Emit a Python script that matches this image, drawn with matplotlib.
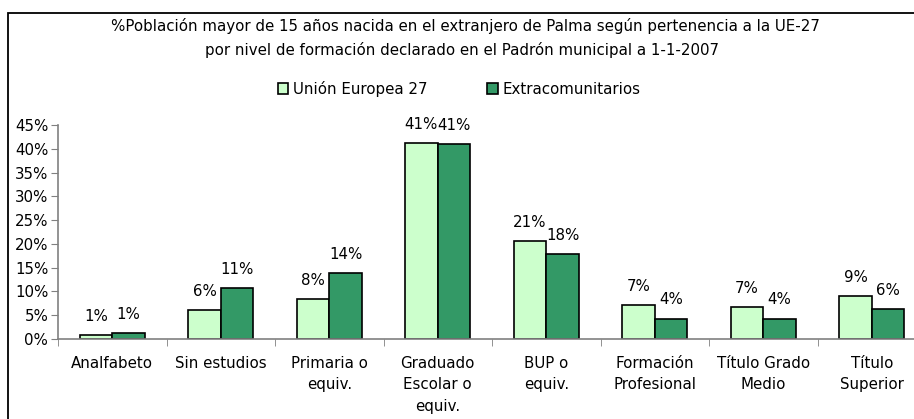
import numpy as np
import matplotlib
matplotlib.use("Agg")
import matplotlib.pyplot as plt
from matplotlib.patches import Rectangle
from matplotlib.ticker import FixedLocator, PercentFormatter

plt.rcParams['font.family'] = ['DejaVu Sans']

categories = ["Analfabeto", "Sin estudios", "Primaria o\nequiv.", "Graduado\nEscolar o\nequiv.",
              "BUP o\nequiv.", "Formación\nProfesional", "Título Grado\nMedio", "Título\nSuperior"]
ue27 = [0.8, 6.0, 8.4, 41.2, 20.6, 7.1, 6.7, 9.1]
extra = [1.2, 10.7, 13.9, 40.9, 17.8, 4.3, 4.3, 6.3]
series_names = ["Unión Europea 27", "Extracomunitarios"]

W, H = 914, 419
FS = 10.8
fig = plt.figure(figsize=(W / 100, H / 100), dpi=100)

# outer chart frame (cut off on the right and bottom like the original)
fig.patches.append(Rectangle((8 / W, -0.1), 1.2, (H - 13) / H + 0.1, transform=fig.transFigure,
                             fill=False, edgecolor='black', linewidth=1.3))

ax = fig.add_axes([58 / W, (H - 339) / H, 868 / W, 214 / H])
x = np.arange(len(categories))
bw = 0.3
b1 = ax.bar(x - bw / 2, ue27, bw, color='#CCFFCC', edgecolor='black', linewidth=1.2, label=series_names[0])
b2 = ax.bar(x + bw / 2, extra, bw, color='#339966', edgecolor='black', linewidth=1.2, label=series_names[1])

for bars, vals in ((b1, ue27), (b2, extra)):
    for r, v in zip(bars, vals):
        ax.annotate(f"{round(v):.0f}%", (r.get_x() + r.get_width() / 2, v), xytext=(0, 8),
                    textcoords='offset points', ha='center', va='bottom', fontsize=FS)

ax.set_xlim(-0.5, len(categories) - 0.5)
ax.set_ylim(0, 45)
ax.yaxis.set_major_locator(FixedLocator(np.arange(0, 46, 5)))
ax.yaxis.set_major_formatter(PercentFormatter(decimals=0))
ax.set_xticks(x)
ax.set_xticklabels(categories, fontsize=FS, linespacing=1.55)
ax.xaxis.set_minor_locator(FixedLocator(np.arange(-0.5, len(categories), 1)))
ax.tick_params(axis='x', which='major', length=0, pad=12)
ax.tick_params(axis='x', which='minor', length=5, direction='out', color='#808080')
ax.tick_params(axis='y', length=5, direction='out', color='#808080', labelsize=FS, pad=2)
for s in ('top', 'right'):
    ax.spines[s].set_visible(False)
for s in ('left', 'bottom'):
    ax.spines[s].set_color('#808080')
    ax.spines[s].set_linewidth(1.2)

fig.text(465 / W, 1 - 26 / H, "%Población mayor de 15 años nacida en el extranjero de Palma según pertenencia a la UE-27",
         ha='center', va='center', fontsize=FS)
fig.text(462 / W, 1 - 50 / H, "por nivel de formación declarado en el Padrón municipal a 1-1-2007",
         ha='center', va='center', fontsize=FS)

fig.legend(handles=[b1, b2], loc='center', bbox_to_anchor=(459 / W, 1 - 89 / H), ncol=2, frameon=False,
           fontsize=FS, handlelength=0.7, handleheight=0.7, handletextpad=0.3, columnspacing=4.0)

fig.savefig("out.png", dpi=100)
